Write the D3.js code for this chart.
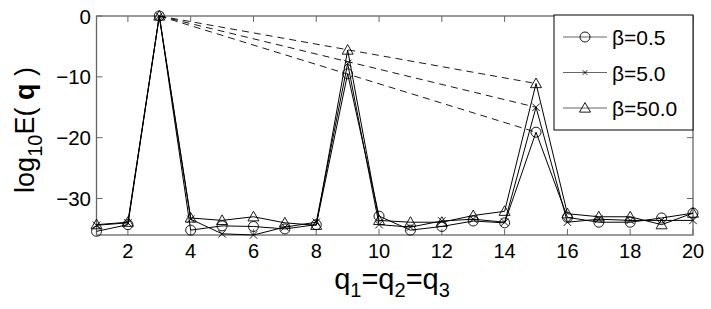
<!DOCTYPE html>
<html>
<head>
<meta charset="utf-8">
<script src="https://cdn.jsdelivr.net/npm/d3@7"></script>
<style>
body { margin: 0; background: #fff; }
svg text { font-family: "Liberation Sans", Arial, sans-serif; }
</style>
</head>
<body>
<svg id="chart" width="711" height="309"></svg>
<script>
var qs = [1, 2, 3, 4, 5, 6, 7, 8, 9, 10, 11, 12, 13, 14, 15, 16, 17, 18, 19, 20];
var betaLabels = ['β=0.5', 'β=5.0', 'β=50.0'];
var betaMarks = ['circle', 'cross', 'triangle'];
var e05 = [-35.4, -34.3, 0, -35.2, -34.5, -34.6, -35.0, -34.3, -9.5, -32.9, -35.2, -34.6, -33.7, -34.0, -19.1, -33.1, -33.9, -33.9, -33.2, -32.4];
var e5 = [-34.4, -34.0, 0, -33.4, -35.8, -36.0, -34.7, -33.9, -7.8, -34.3, -34.7, -33.7, -33.4, -33.9, -15.0, -33.9, -33.4, -33.6, -33.6, -33.6];
var e50 = [-34.3, -33.9, 0, -33.2, -33.6, -33.0, -34.0, -34.4, -5.6, -33.6, -33.9, -33.9, -32.8, -32.1, -11.1, -32.5, -33.0, -33.0, -34.3, -32.4];
var xTicks = [2, 4, 6, 8, 10, 12, 14, 16, 18, 20];
var yTicks = [0, -10, -20, -30];

var series = [e05, e5, e50];

var svg = d3.select("#chart");
var x = d3.scaleLinear().domain([1, 20]).range([96.5, 693]);
var y = d3.scaleLinear().domain([-36, 0]).range([235, 16]);

var frame = '#666';

// ticks (inside, on all four sides)
var tk = svg.append("g").attr("stroke", frame).attr("stroke-width", 1);
xTicks.forEach(function(t) {
	tk.append("line").attr("x1", x(t)).attr("x2", x(t)).attr("y1", y(-36)).attr("y2", y(-36) - 6);
	tk.append("line").attr("x1", x(t)).attr("x2", x(t)).attr("y1", y(0)).attr("y2", y(0) + 6);
});
yTicks.forEach(function(t) {
	tk.append("line").attr("x1", x(1)).attr("x2", x(1) + 6).attr("y1", y(t)).attr("y2", y(t));
	tk.append("line").attr("x1", x(20)).attr("x2", x(20) - 6).attr("y1", y(t)).attr("y2", y(t));
});

svg.append("rect")
	.attr("x", x(1)).attr("y", y(0))
	.attr("width", x(20) - x(1)).attr("height", y(-36) - y(0))
	.attr("fill", "none").attr("stroke", frame).attr("stroke-width", 1.3);

// tick labels
svg.append("g").selectAll("text").data(xTicks).enter().append("text")
	.attr("x", function(d) { return x(d); })
	.attr("y", 258)
	.attr("text-anchor", "middle")
	.style("font-size", "20px")
	.text(function(d) { return d; });

svg.append("g").selectAll("text").data(yTicks).enter().append("text")
	.attr("x", 91)
	.attr("y", function(d) { return y(d) + 7.5; })
	.attr("text-anchor", "end")
	.style("font-size", "20.5px")
	.text(function(d) { return d == 0 ? '0' : '\u2212' + Math.abs(d); });

// dashed trend lines from q=3 to the q=15 peak
series.forEach(function(s) {
	svg.append("line")
		.attr("x1", x(3)).attr("y1", y(s[2]))
		.attr("x2", x(15)).attr("y2", y(s[14]))
		.attr("stroke", "#000").attr("stroke-width", 0.9)
		.attr("stroke-dasharray", "7,5");
});

var line = d3.line()
	.x(function(d, i) { return x(qs[i]); })
	.y(function(d) { return y(d); });

function drawMark(g, type, cx, cy, r) {
	if (type == 'circle') {
		g.append("circle").attr("cx", cx).attr("cy", cy).attr("r", r)
			.attr("fill", "none").attr("stroke", "#000").attr("stroke-width", 0.9);
	} else if (type == 'cross') {
		var a = r * 0.75;
		g.append("path")
			.attr("d", "M" + (cx - a) + "," + (cy - a) + "L" + (cx + a) + "," + (cy + a) +
				"M" + (cx - a) + "," + (cy + a) + "L" + (cx + a) + "," + (cy - a))
			.attr("stroke", "#000").attr("stroke-width", 0.9);
	} else {
		var h = r * 1.1;
		g.append("path")
			.attr("d", "M" + cx + "," + (cy - h) + "L" + (cx + h) + "," + (cy + h * 0.75) +
				"L" + (cx - h) + "," + (cy + h * 0.75) + "Z")
			.attr("fill", "none").attr("stroke", "#000").attr("stroke-width", 0.9);
	}
}

series.forEach(function(s, k) {
	svg.append("path").datum(s)
		.attr("d", line)
		.attr("fill", "none").attr("stroke", "#000").attr("stroke-width", 1);
	var g = svg.append("g");
	s.forEach(function(v, i) {
		drawMark(g, betaMarks[k], x(qs[i]), y(v), 5);
	});
});

// legend
var lg = svg.append("g");
lg.append("rect").attr("x", 554).attr("y", 15).attr("width", 139).attr("height", 115)
	.attr("fill", "#fff").attr("stroke", "#000").attr("stroke-width", 1);
betaLabels.forEach(function(lab, k) {
	var ly = 37 + k * 35.5;
	lg.append("line").attr("x1", 563).attr("x2", 607).attr("y1", ly).attr("y2", ly)
		.attr("stroke", "#666").attr("stroke-width", 1);
	drawMark(lg, betaMarks[k], 585, ly, k == 1 ? 3 : 5);
	lg.append("text").attr("x", 612).attr("y", ly + 8)
		.style("font-size", "21px").text(lab);
});

// axis labels
var yl = svg.append("text")
	.attr("transform", "translate(34,130) rotate(-90)")
	.attr("text-anchor", "middle")
	.style("font-size", "27px");
yl.append("tspan").text("log");
yl.append("tspan").attr("dy", 8).style("font-size", "20px").text("10");
yl.append("tspan").attr("dy", -8).text("E( ");
yl.append("tspan").style("font-weight", "bold").text("q");
yl.append("tspan").text(" )");

var xl = svg.append("text")
	.attr("x", 392).attr("y", 289)
	.attr("text-anchor", "middle")
	.style("font-size", "29px");
xl.append("tspan").text("q");
xl.append("tspan").attr("dy", 8).style("font-size", "20px").text("1");
xl.append("tspan").attr("dy", -8).text("=q");
xl.append("tspan").attr("dy", 8).style("font-size", "20px").text("2");
xl.append("tspan").attr("dy", -8).text("=q");
xl.append("tspan").attr("dy", 8).style("font-size", "20px").text("3");
</script>
</body>
</html>
